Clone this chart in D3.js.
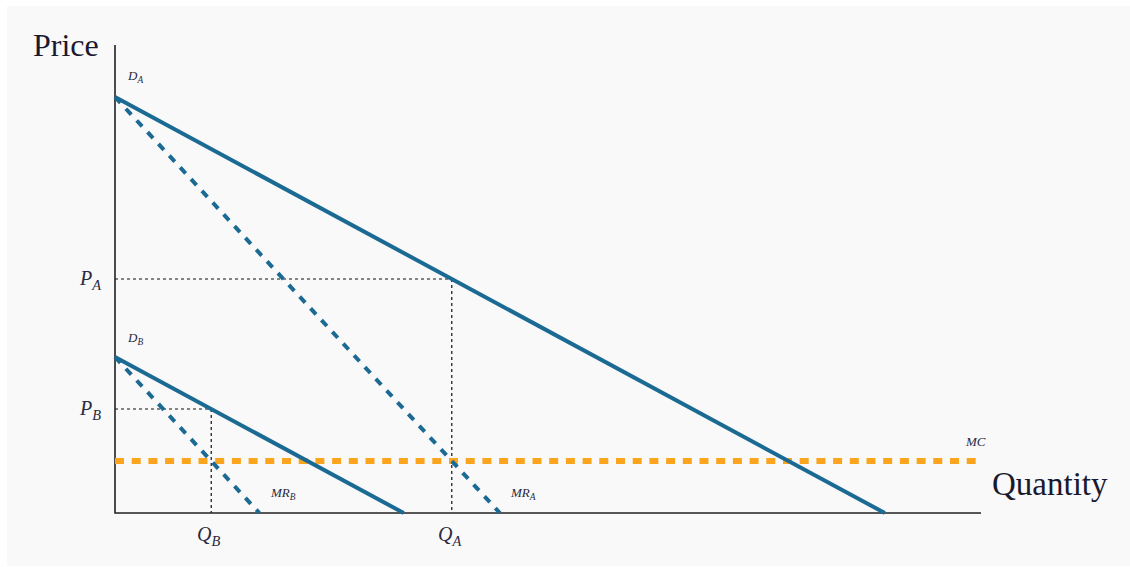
<!DOCTYPE html>
<html><head><meta charset="utf-8">
<script src="https://cdn.jsdelivr.net/npm/d3@7"></script>
<style>
html,body{margin:0;padding:0;background:#fff;}
svg{display:block;}
</style></head>
<body>
<svg id="chart" width="1130" height="567"></svg>
<script>
// Market A and B demand / marginal revenue (price = intercept - slope*Q)
const demandA = [[0, 8], [8, 0]];
const mrA = [[0, 8], [4, 0]];
const demandB = [[0, 3], [3, 0]];
const mrB = [[0, 3], [1.5, 0]];
const mc = [[0, 1], [9, 1]];
const optimumA = {q: 3.5, p: 4.5};
const optimumB = {q: 1, p: 2};
const axisDomain = [0, 9];

const FONT = "'Liberation Serif', 'Times New Roman', Times, serif";

const svg = d3.select("#chart");
svg.append("rect").attr("x", 7).attr("y", 6).attr("width", 1123).attr("height", 560).attr("fill", "#f9f9f9");

const x = d3.scaleLinear().domain(axisDomain).range([115, 981]);
const y = d3.scaleLinear().domain(axisDomain).range([513, 45]);
const line = d3.line().x(d => x(d[0])).y(d => y(d[1]));

const blue = "#1b6a93";
const orange = "#fba51f";

// guide lines (dotted)
function guide(o) {
  svg.append("path").attr("d", line([[0, o.p], [o.q, o.p]]))
    .attr("stroke", "#111").attr("stroke-width", 1.2).attr("stroke-dasharray", "3,3").attr("fill", "none");
  svg.append("path").attr("d", line([[o.q, o.p], [o.q, 0]]))
    .attr("stroke", "#111").attr("stroke-width", 1.2).attr("stroke-dasharray", "3,3").attr("fill", "none");
}
guide(optimumA);
guide(optimumB);

// axes
svg.append("path").attr("d", line([[0, 9], [0, 0], [9, 0]]))
  .attr("stroke", "#222").attr("stroke-width", 1.6).attr("fill", "none");

// MC
svg.append("path").attr("d", line(mc)).attr("stroke", orange).attr("stroke-width", 6)
  .attr("stroke-dasharray", "9,7.7").attr("fill", "none");

// demand & MR
[demandA, demandB].forEach(d => svg.append("path").attr("d", line(d))
  .attr("stroke", blue).attr("stroke-width", 4).attr("fill", "none"));
[mrA, mrB].forEach(d => svg.append("path").attr("d", line(d))
  .attr("stroke", blue).attr("stroke-width", 4).attr("stroke-dasharray", "8,8").attr("fill", "none"));

// labels
function sub(xp, yp, main, s, size, anchor) {
  const t = svg.append("text").attr("x", xp).attr("y", yp).attr("font-size", size)
    .attr("font-family", FONT)
    .attr("font-style", "italic").attr("fill", "#2a2a40").attr("text-anchor", anchor || "start");
  t.append("tspan").text(main);
  t.append("tspan").attr("dy", size * 0.25).attr("font-size", size * 0.72).text(s);
  return t;
}
svg.append("text").attr("x", 33).attr("y", 56).attr("font-size", 32).attr("font-family", FONT).attr("fill", "#1a1a2e").text("Price");
svg.append("text").attr("x", 992).attr("y", 495).attr("font-size", 33).attr("font-family", FONT).attr("fill", "#1a1a2e").text("Quantity");

sub(128, 80, "D", "A", 13);
sub(128, 342, "D", "B", 13);
sub(80, 285, "P", "A", 20);
sub(80, 415, "P", "B", 20);
sub(197, 541, "Q", "B", 20);
sub(438, 541, "Q", "A", 20);
sub(271, 497, "MR", "B", 13);
sub(511, 497, "MR", "A", 13);
svg.append("text").attr("x", 966).attr("y", 446).attr("font-size", 13).attr("font-family", FONT)
  .attr("font-style", "italic").attr("fill", "#2a2a40").text("MC");
</script>
</body></html>
